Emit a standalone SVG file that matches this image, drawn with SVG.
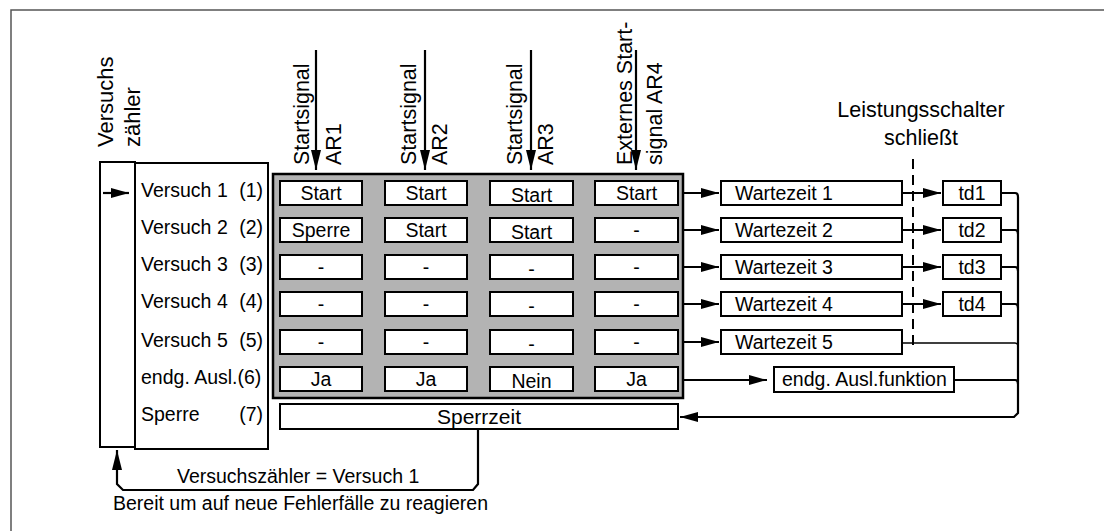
<svg xmlns="http://www.w3.org/2000/svg" width="1104" height="531" viewBox="0 0 1104 531">
<style>
text{font-family:"Liberation Sans",Arial,sans-serif;font-size:19.5px;fill:#000}
.hd{font-size:21.5px}
.vz{font-size:22px}
.c{text-anchor:middle}
.e{text-anchor:end}
.box{fill:#fff;stroke:#000;stroke-width:2}
.ln{fill:none;stroke:#000;stroke-width:2.2}
.thin{fill:none;stroke:#000;stroke-width:1.4}
</style>
<defs>
<marker id="ah" viewBox="0 0 18 10" refX="18" refY="5" markerWidth="18" markerHeight="10" markerUnits="userSpaceOnUse" orient="auto">
<path d="M0,0 L18,5 L0,10 z" fill="#000"/>
</marker>
<marker id="ahv" viewBox="0 0 20 10" refX="20" refY="5" markerWidth="20" markerHeight="10" markerUnits="userSpaceOnUse" orient="auto">
<path d="M0,0 L20,5 L0,10 z" fill="#000"/>
</marker>
</defs>
<rect x="11" y="10" width="1120" height="560" fill="none" stroke="#555" stroke-width="1.5"/>

<g id="zaehler">
<rect class="box" x="100" y="162" width="35" height="285"/>
<text class="vz" transform="translate(113,147) rotate(-90)">Versuchs</text>
<text class="vz" transform="translate(140,147) rotate(-90)">zähler</text>
</g>

<g id="labels">
<rect class="box" x="135" y="163" width="133" height="286"/>
<text x="141" y="197">Versuch 1</text><text class="e" x="263" y="197">(1)</text>
<text x="141" y="234">Versuch 2</text><text class="e" x="263" y="234">(2)</text>
<text x="141" y="271">Versuch 3</text><text class="e" x="263" y="271">(3)</text>
<text x="141" y="308">Versuch 4</text><text class="e" x="263" y="308">(4)</text>
<text x="141" y="347">Versuch 5</text><text class="e" x="263" y="347">(5)</text>
<text x="141" y="384">endg. Ausl.(6)</text>
<text x="141" y="421">Sperre</text><text class="e" x="263" y="421">(7)</text>
</g>

<g id="headers">
<text class="hd" transform="translate(309,165) rotate(-90)">Startsignal</text>
<text class="hd" transform="translate(341,165) rotate(-90)">AR1</text>
<text class="hd" transform="translate(416,165) rotate(-90)">Startsignal</text>
<text class="hd" transform="translate(447,165) rotate(-90)">AR2</text>
<text class="hd" transform="translate(522,165) rotate(-90)">Startsignal</text>
<text class="hd" transform="translate(553,165) rotate(-90)">AR3</text>
<text class="hd" transform="translate(632,165) rotate(-90)">Externes Start-</text>
<text class="hd" transform="translate(662,165) rotate(-90)">signal AR4</text>
</g>

<g id="grid">
<rect x="273" y="174" width="410" height="224" fill="#b3b3b3" stroke="#000" stroke-width="2.5"/>
<g id="row1">
<rect class="box" x="280" y="181" width="82" height="24"/><text class="c" x="321" y="200">Start</text>
<rect class="box" x="385" y="181" width="82" height="24"/><text class="c" x="426" y="200">Start</text>
<rect class="box" x="490" y="181" width="83" height="24"/><text class="c" x="531.5" y="202">Start</text>
<rect class="box" x="595" y="181" width="83" height="24"/><text class="c" x="636.5" y="200">Start</text>
</g>
<g id="row2">
<rect class="box" x="280" y="218" width="82" height="24"/><text class="c" x="321" y="237">Sperre</text>
<rect class="box" x="385" y="218" width="82" height="24"/><text class="c" x="426" y="237">Start</text>
<rect class="box" x="490" y="218" width="83" height="24"/><text class="c" x="531.5" y="239">Start</text>
<rect class="box" x="595" y="218" width="83" height="24"/><text class="c" x="636.5" y="237">-</text>
</g>
<g id="row3">
<rect class="box" x="280" y="255" width="82" height="24"/><text class="c" x="321" y="274">-</text>
<rect class="box" x="385" y="255" width="82" height="24"/><text class="c" x="426" y="274">-</text>
<rect class="box" x="490" y="255" width="83" height="24"/><text class="c" x="531.5" y="276">-</text>
<rect class="box" x="595" y="255" width="83" height="24"/><text class="c" x="636.5" y="274">-</text>
</g>
<g id="row4">
<rect class="box" x="280" y="292" width="82" height="24"/><text class="c" x="321" y="311">-</text>
<rect class="box" x="385" y="292" width="82" height="24"/><text class="c" x="426" y="311">-</text>
<rect class="box" x="490" y="292" width="83" height="24"/><text class="c" x="531.5" y="313">-</text>
<rect class="box" x="595" y="292" width="83" height="24"/><text class="c" x="636.5" y="311">-</text>
</g>
<g id="row5">
<rect class="box" x="280" y="330" width="82" height="24"/><text class="c" x="321" y="349">-</text>
<rect class="box" x="385" y="330" width="82" height="24"/><text class="c" x="426" y="349">-</text>
<rect class="box" x="490" y="330" width="83" height="24"/><text class="c" x="531.5" y="351">-</text>
<rect class="box" x="595" y="330" width="83" height="24"/><text class="c" x="636.5" y="349">-</text>
</g>
<g id="row6">
<rect class="box" x="280" y="367" width="82" height="24"/><text class="c" x="321" y="386">Ja</text>
<rect class="box" x="385" y="367" width="82" height="24"/><text class="c" x="426" y="386">Ja</text>
<rect class="box" x="490" y="367" width="83" height="24"/><text class="c" x="531.5" y="388">Nein</text>
<rect class="box" x="595" y="367" width="83" height="24"/><text class="c" x="636.5" y="386">Ja</text>
</g>
</g>

<g id="sperrzeit">
<rect class="box" x="280" y="404" width="398" height="25"/>
<text class="c" x="479" y="424" style="font-size:21px">Sperrzeit</text>
</g>

<g id="wartezeit">
<rect class="box" x="721" y="181" width="181" height="24"/><text x="735" y="200">Wartezeit 1</text>
<rect class="box" x="721" y="218" width="181" height="24"/><text x="735" y="237">Wartezeit 2</text>
<rect class="box" x="721" y="255" width="181" height="24"/><text x="735" y="274">Wartezeit 3</text>
<rect class="box" x="721" y="292" width="181" height="24"/><text x="735" y="311">Wartezeit 4</text>
<rect class="box" x="721" y="330" width="181" height="24"/><text x="735" y="349">Wartezeit 5</text>
</g>

<g id="td">
<rect class="box" x="943" y="181" width="58" height="24"/><text class="c" x="972" y="200">td1</text>
<rect class="box" x="943" y="218" width="58" height="24"/><text class="c" x="972" y="237">td2</text>
<rect class="box" x="943" y="255" width="58" height="24"/><text class="c" x="972" y="274">td3</text>
<rect class="box" x="943" y="292" width="58" height="24"/><text class="c" x="972" y="311">td4</text>
</g>

<g id="endg">
<rect class="box" x="774" y="367" width="180" height="25"/>
<text x="782" y="386">endg. Ausl.funktion</text>
</g>

<g id="leistungsschalter">
<text class="c hd" x="921" y="117">Leistungsschalter</text>
<text class="c hd" x="921" y="145">schließt</text>
<line x1="913" y1="159" x2="913" y2="347" stroke="#000" stroke-width="2" stroke-dasharray="10 6"/>
</g>

<g id="connectors">
<line class="ln" x1="103" y1="193" x2="129" y2="193" marker-end="url(#ah)"/>
<line class="ln" x1="316" y1="50" x2="316" y2="170" marker-end="url(#ahv)"/>
<line class="ln" x1="425" y1="50" x2="425" y2="170" marker-end="url(#ahv)"/>
<line class="ln" x1="531" y1="50" x2="531" y2="170" marker-end="url(#ahv)"/>
<line class="ln" x1="636" y1="50" x2="636" y2="170" marker-end="url(#ahv)"/>
<line class="ln" x1="684" y1="193" x2="719" y2="193" marker-end="url(#ah)"/>
<line class="ln" x1="684" y1="230" x2="719" y2="230" marker-end="url(#ah)"/>
<line class="ln" x1="684" y1="267" x2="719" y2="267" marker-end="url(#ah)"/>
<line class="ln" x1="684" y1="304" x2="719" y2="304" marker-end="url(#ah)"/>
<line class="ln" x1="684" y1="342" x2="719" y2="342" marker-end="url(#ah)"/>
<line class="ln" x1="684" y1="380" x2="767" y2="380" marker-end="url(#ah)"/>
<line class="ln" x1="903" y1="193" x2="941" y2="193" marker-end="url(#ah)"/>
<line class="ln" x1="903" y1="230" x2="941" y2="230" marker-end="url(#ah)"/>
<line class="ln" x1="903" y1="267" x2="941" y2="267" marker-end="url(#ah)"/>
<line class="ln" x1="903" y1="304" x2="941" y2="304" marker-end="url(#ah)"/>
<path class="ln" d="M1002,193 L1015,193 Q1018,193 1018,197 L1018,413 L1014,417 L680,417" marker-end="url(#ah)"/>
<path class="ln" d="M1002,230 L1015,230 Q1018,230 1018,234"/>
<path class="ln" d="M1002,267 L1015,267 Q1018,267 1018,271"/>
<path class="ln" d="M1002,304 L1015,304 Q1018,304 1018,308"/>
<path class="thin" d="M903,343 L1015,343 Q1018,343 1018,347"/>
<path class="ln" d="M955,380 L1015,380 Q1018,380 1018,384"/>
<path class="ln" d="M478,430 L478,484 L473,490 L123,490 L117,484 L117,450" marker-end="url(#ahv)"/>
<text x="177" y="483">Versuchszähler = Versuch 1</text>
<text x="113" y="510">Bereit um auf neue Fehlerfälle zu reagieren</text>
</g>
</svg>
